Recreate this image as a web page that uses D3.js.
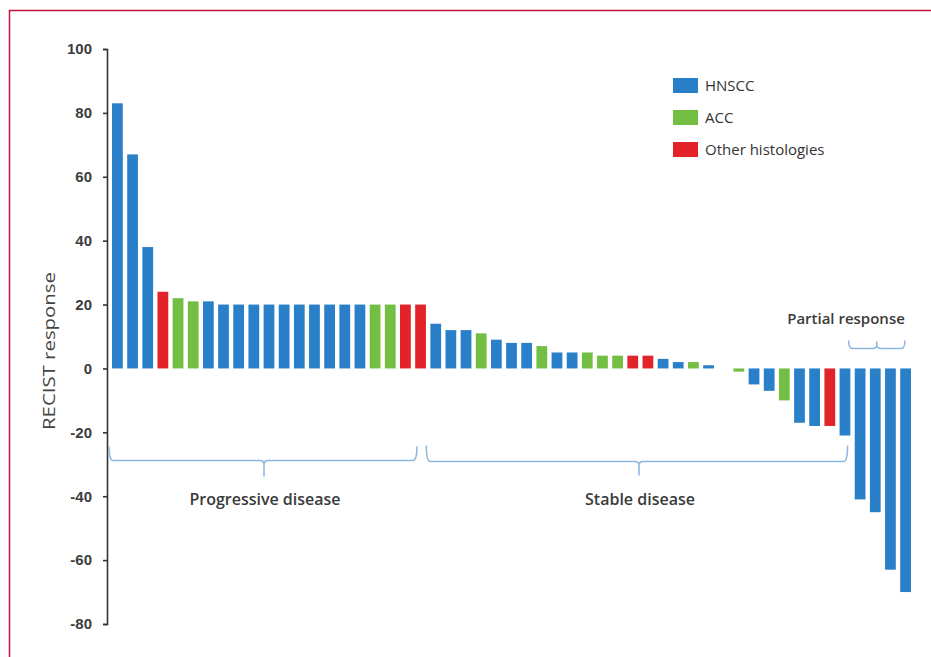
<!DOCTYPE html>
<html>
<head>
<meta charset="utf-8">
<script src="https://cdn.jsdelivr.net/npm/d3@7"></script>
<style>
  body { margin: 0; background: #fff; }
  svg { display: block; }
</style>
</head>
<body>
<div class="chart"></div>
<script>
// one value per patient, sorted as in the waterfall
let responses = [83, 67, 38, 24, 22, 21, 21, 20, 20, 20, 20, 20, 20, 20, 20, 20, 20, 20, 20, 20, 20,
  14, 12, 12, 11, 9, 8, 8, 7, 5, 5, 5, 4, 4, 4, 4, 3, 2, 2, 1, 0,
  -1, -5, -7, -10, -17, -18, -18, -21, -41, -45, -63, -70];
let histology = ["H", "H", "H", "O", "A", "A", "H", "H", "H", "H", "H", "H", "H", "H", "H", "H", "H", "A", "A", "O", "O",
  "H", "H", "H", "A", "H", "H", "H", "A", "H", "H", "A", "A", "A", "O", "O", "H", "H", "A", "H", "H",
  "A", "H", "H", "A", "H", "H", "O", "H", "H", "H", "H", "H"];
let legendKeys = ["H", "A", "O"];
let legendLabels = ["HNSCC", "ACC", "Other histologies"];
let legendColors = ["#2a7fc9", "#72bf44", "#e2232a"];
let yTicks = [-80, -60, -40, -20, 0, 20, 40, 60, 80, 100];
// groups: [label, first bar, last bar]
let groups = [["Progressive disease", 0, 20], ["Stable disease", 21, 48], ["Partial response", 49, 52]];

let data = responses.map((v, i) => ({ id: i, value: v, type: histology[i] }));

let W = 931, H = 657;
let svg = d3.select(".chart").append("svg").attr("width", W).attr("height", H);

// frame
svg.append("path")
  .attr("d", "M9.5," + H + "V10.5H" + W)
  .attr("fill", "none")
  .attr("stroke", "#c8103e")
  .attr("stroke-width", 1.5);

let x = d3.scaleBand()
  .domain(data.map(d => d.id))
  .range([109, 914])
  .paddingInner(0.29)
  .paddingOuter(0.2);

let y = d3.scaleLinear().domain([-80, 100]).range([624, 49]);

let color = d3.scaleOrdinal().domain(legendKeys).range(legendColors);

svg.selectAll(".bar")
  .data(data)
  .enter()
  .append("rect")
  .attr("class", "bar")
  .attr("x", d => x(d.id))
  .attr("width", x.bandwidth())
  .attr("y", d => y(Math.max(0, d.value)))
  .attr("height", d => Math.abs(y(d.value) - y(0)))
  .attr("fill", d => color(d.type));

let yAxis = d3.axisLeft(y).tickValues(yTicks).tickFormat(d => String(d)).tickSize(4).tickSizeOuter(4);
let yAxisGroup = svg.append("g")
  .attr("class", "y-axis axis")
  .attr("transform", "translate(107,0)")
  .call(yAxis);
yAxisGroup.select(".domain").attr("stroke", "#333").attr("stroke-width", 1.6);
yAxisGroup.selectAll(".tick line").attr("stroke", "#333").attr("stroke-width", 1.6);
yAxisGroup.selectAll(".tick text")
  .attr("x", -15)
  .attr("fill", "#3d3d3d")
  .style("font-family", "'Liberation Sans', Arial, sans-serif")
  .style("font-size", "15px")
  .style("font-weight", "bold");

svg.append("text")
  .attr("transform", "translate(55,351) rotate(-90)")
  .attr("text-anchor", "middle")
  .attr("fill", "#444")
  .attr("textLength", 158)
  .attr("lengthAdjust", "spacingAndGlyphs")
  .style("font-family", "'Open Sans', sans-serif")
  .style("font-size", "16px")
  .text("RECIST response");

// legend
let legend = svg.append("g").attr("transform", "translate(673,78)");
legendKeys.forEach((k, i) => {
  let row = legend.append("g").attr("transform", "translate(0," + (i * 32) + ")");
  row.append("rect").attr("width", 25).attr("height", 15).attr("fill", legendColors[i]);
  row.append("text")
    .attr("x", 32).attr("y", 8).attr("dy", "0.35em")
    .attr("fill", "#333")
    .style("font-family", "'Open Sans', sans-serif")
    .style("font-size", "15px")
    .text(legendLabels[i]);
});

// curly brace with curled ends and a centre tip
function brace(x1, x2, yLine, tipX, tipDepth, endH) {
  let s = Math.sign(tipDepth);
  let r = 4;
  return "M" + x1 + "," + (yLine - s * endH)
    + "Q" + x1 + "," + yLine + " " + (x1 + r) + "," + yLine
    + "H" + (tipX - r)
    + "Q" + tipX + "," + yLine + " " + tipX + "," + (yLine + s * r)
    + "V" + (yLine + tipDepth)
    + "M" + tipX + "," + (yLine + s * r)
    + "Q" + tipX + "," + yLine + " " + (tipX + r) + "," + yLine
    + "H" + (x2 - r)
    + "Q" + x2 + "," + yLine + " " + x2 + "," + (yLine - s * endH);
}

let braceStyle = sel => sel.attr("fill", "none").attr("stroke", "#8db6df").attr("stroke-width", 1.5);
let labelStyle = sel => sel.attr("text-anchor", "middle").attr("fill", "#3a3a3a")
  .style("font-family", "'Open Sans', sans-serif").style("font-weight", "600");

// progressive
let g0 = groups[0];
let p1 = x(g0[1]) - 3, p2 = x(g0[2]) + x.bandwidth() - 9;
svg.append("path").attr("d", brace(p1, p2, 460.5, 264, 16, 14)).call(braceStyle);
svg.append("text").attr("x", 265).attr("y", 505).text(g0[0]).call(labelStyle).style("font-size", "16px");

// stable
let g1 = groups[1];
let s1 = x(g1[1]) - 4, s2 = x(g1[2]) + 8;
svg.append("path").attr("d", brace(s1, s2, 461.5, 639, 14, 16)).call(braceStyle);
svg.append("text").attr("x", 640).attr("y", 505).text(g1[0]).call(labelStyle).style("font-size", "16px");

// partial response (above, tip up)
let g2 = groups[2];
let r1 = s2 + 1, r2 = x(g2[2]) + x.bandwidth() - 6;
svg.append("path").attr("d", brace(r1, r2, 348.5, (r1 + r2) / 2, -7, -8)).call(braceStyle);
svg.append("text").attr("x", 846).attr("y", 324).text(g2[0]).call(labelStyle)
  .style("font-size", "15px");
</script>
</body>
</html>
